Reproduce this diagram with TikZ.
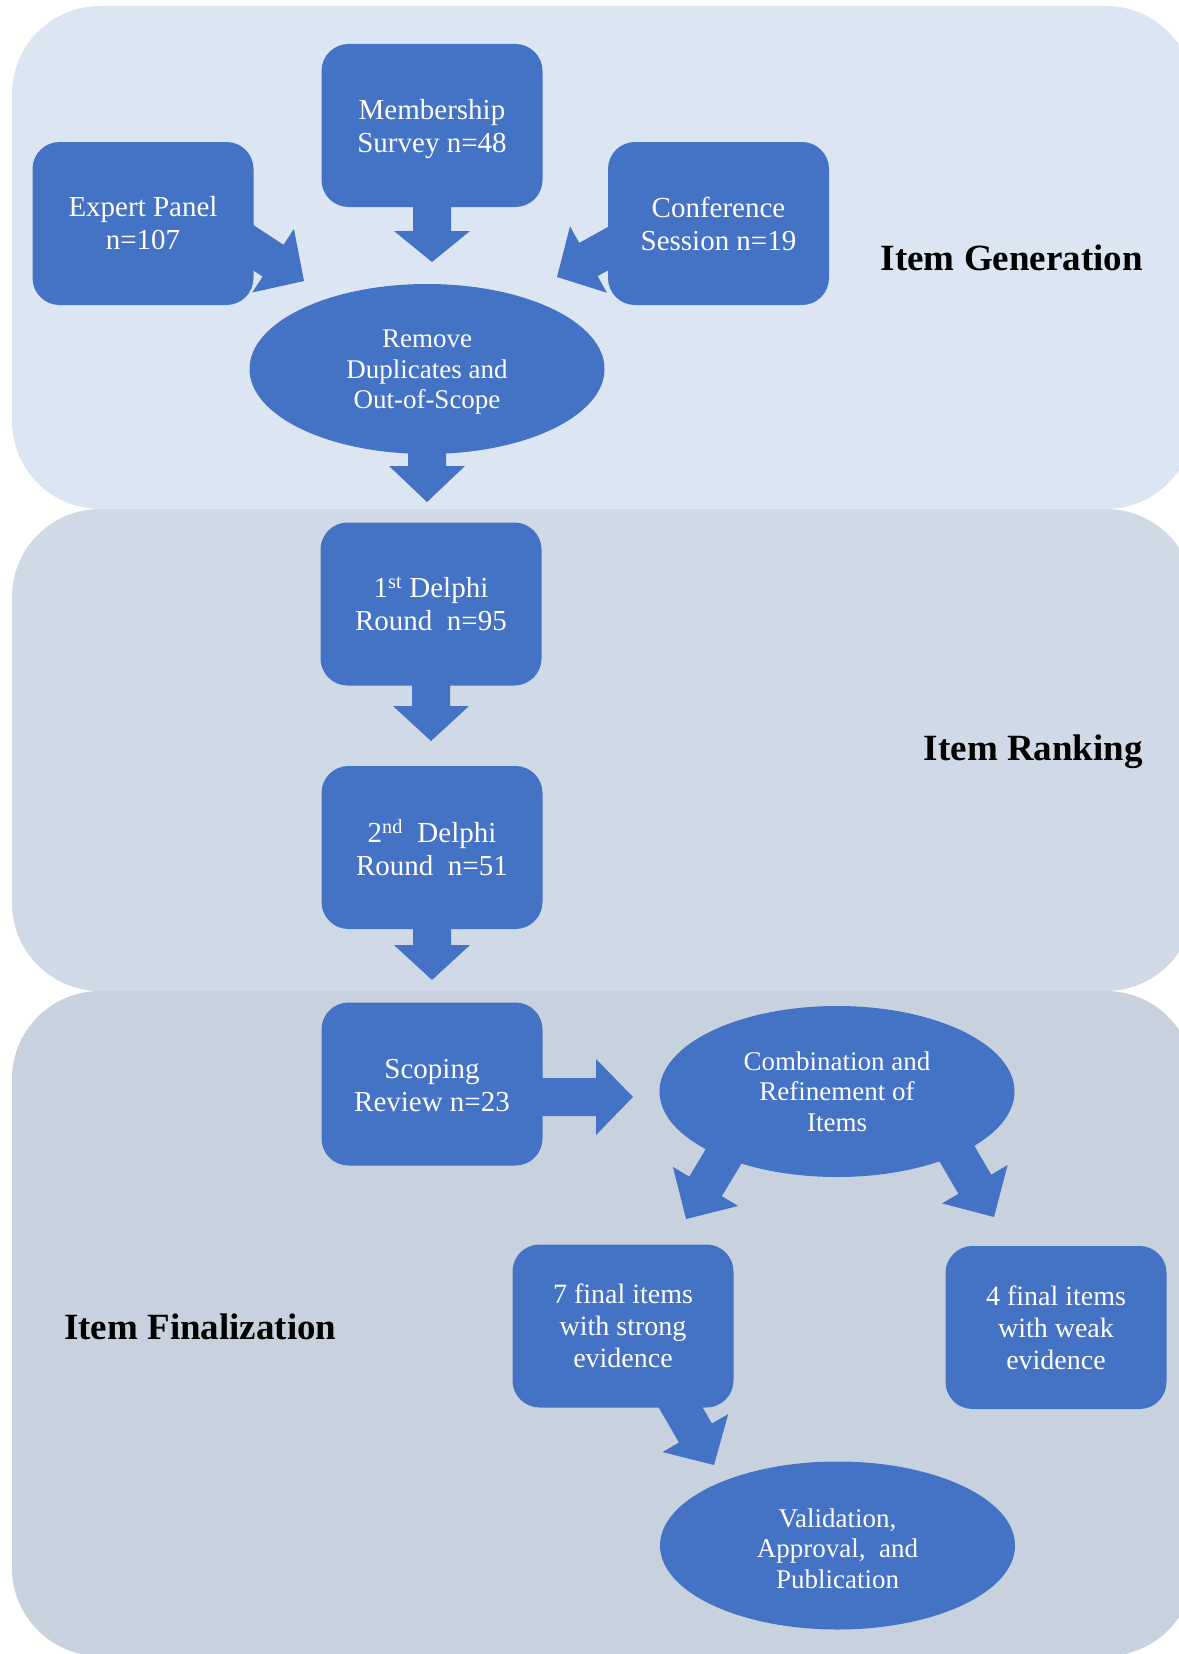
\documentclass[tikz,border=0pt]{standalone}
\usepackage{fontspec}
\setmainfont{Liberation Serif}
\usetikzlibrary{shapes.geometric,calc}
\definecolor{nodeblue}{HTML}{4472C4}
\definecolor{panelA}{HTML}{DCE6F3}
\definecolor{panelB}{HTML}{D0DAE6}
\definecolor{panelC}{HTML}{C8D2DF}
\pgfdeclarelayer{back}
\pgfdeclarelayer{mid}
\pgfsetlayers{back,mid,main}
% block arrow: #1 start, #2 tip, #3 head length
\newcommand\blockarrow[3]{%
  \coordinate (ba-h) at ($(#2)!#3pt!(#1)$);
  \fill[nodeblue] ($(#1)!19pt!90:(#2)$) -- ($(ba-h)!19pt!90:(#2)$) -- ($(ba-h)!38pt!90:(#2)$) -- (#2)
    -- ($(ba-h)!38pt!-90:(#2)$) -- ($(ba-h)!19pt!-90:(#2)$) -- ($(#1)!19pt!-90:(#2)$) -- cycle;}
\newcommand\tstrut[1]{\rule{0pt}{#1}}
\begin{document}
\begin{tikzpicture}[x=1pt,y=-1pt,
  box/.style={fill=nodeblue, rounded corners=27pt, minimum width=221pt, minimum height=163pt,
    inner sep=0pt, text=white, align=center, font=\fontsize{29}{33}\selectfont},
  boxs/.style={box, font=\fontsize{28}{32}\selectfont},
  oval/.style={ellipse, fill=nodeblue, minimum width=355pt, minimum height=170pt,
    inner sep=0pt, text=white, align=center, font=\fontsize{27}{30.5}\selectfont},
  phase/.style={font=\bfseries\fontsize{37}{40}\selectfont, inner sep=0pt, text=black}]
\useasboundingbox (0,0) rectangle (1178,1654);
\clip (0,0) rectangle (1178,1654);
\begin{pgfonlayer}{back}
  \fill[panelA, rounded corners=88pt] (12,6) rectangle (1194,509);
  \fill[panelB, rounded corners=88pt] (12,509) rectangle (1194,991);
  \fill[panelC, rounded corners=88pt] (12,991) rectangle (1194,1656);
\end{pgfonlayer}

% nodes
\node[box] (ep) at (143,223.5) {Expert Panel\\n=107};
\node[box] (ms) at (432,125.5) {\tstrut{28pt}Membership\\Survey n=48};
\node[box] (cs) at (718.5,223.5) {Conference\\Session n=19};
\node[oval] (rd) at (427,369) {\tstrut{24.5pt}Remove\\Duplicates and\\Out-of-Scope};
\node[box] (d1) at (431,604) {1\textsuperscript{st} Delphi\\Round~~n=95};
\node[box] (d2) at (432,847.5) {2\textsuperscript{nd}~~Delphi\\Round~~n=51};
\node[box] (sr) at (432,1084) {\tstrut{23pt}Scoping\\Review n=23};
\node[oval, minimum height=171pt] (cb) at (837,1091.5) {Combination and\\Refinement of\\Items};
\node[boxs] (f7) at (623,1326) {7 final items\\with strong\\evidence};
\node[boxs] (f4) at (1056,1327.5) {4 final items\\with weak\\evidence};
\node[oval, minimum height=168pt] (vp) at (837.5,1545.5) {\tstrut{24.5pt}Validation,\\Approval,~~and\\Publication};

% phase titles
\node[phase, anchor=base east] (t1) at (1143,270) {Item Generation};
\node[phase, anchor=base east] (t2) at (1143,760) {Item Ranking};
\node[phase, anchor=base west] (t3) at (64,1339) {Item Finalization};

% connectors (block arrows, behind the shapes)
\coordinate (epS) at ($(ep.east)+(-16,14)$);
\coordinate (epT) at (304,281);
\coordinate (csS) at ($(cs.west)+(18.5,15)$);
\coordinate (csT) at (557,277);
\coordinate (msT) at (432,262);
\coordinate (rdT) at (427,502);
\coordinate (d1T) at (431,741);
\coordinate (d2T) at (432,980);
\coordinate (srS) at ($(sr.center)+(0,13)$);
\coordinate (srT) at (633,1097);
\coordinate (cbS1) at ($(cb.center)+(-99.6,41.8)$);
\coordinate (cbT1) at (686,1219);
\coordinate (cbS2) at ($(cb.center)+(106.6,39.4)$);
\coordinate (cbT2) at (994,1217);
\coordinate (f7S) at ($(f7.center)+(51,70)$);
\coordinate (f7T) at (714,1465);
\begin{pgfonlayer}{mid}
  \blockarrow{epS}{epT}{37}
  \blockarrow{csS}{csT}{36}
  \blockarrow{ms}{msT}{31}
  \blockarrow{rd}{rdT}{36}
  \blockarrow{d1}{d1T}{35}
  \blockarrow{d2}{d2T}{35}
  \blockarrow{srS}{srT}{37}
  \blockarrow{cbS1}{cbT1}{38}
  \blockarrow{cbS2}{cbT2}{38}
  \blockarrow{f7S}{f7T}{37}
\end{pgfonlayer}
\end{tikzpicture}
\end{document}
